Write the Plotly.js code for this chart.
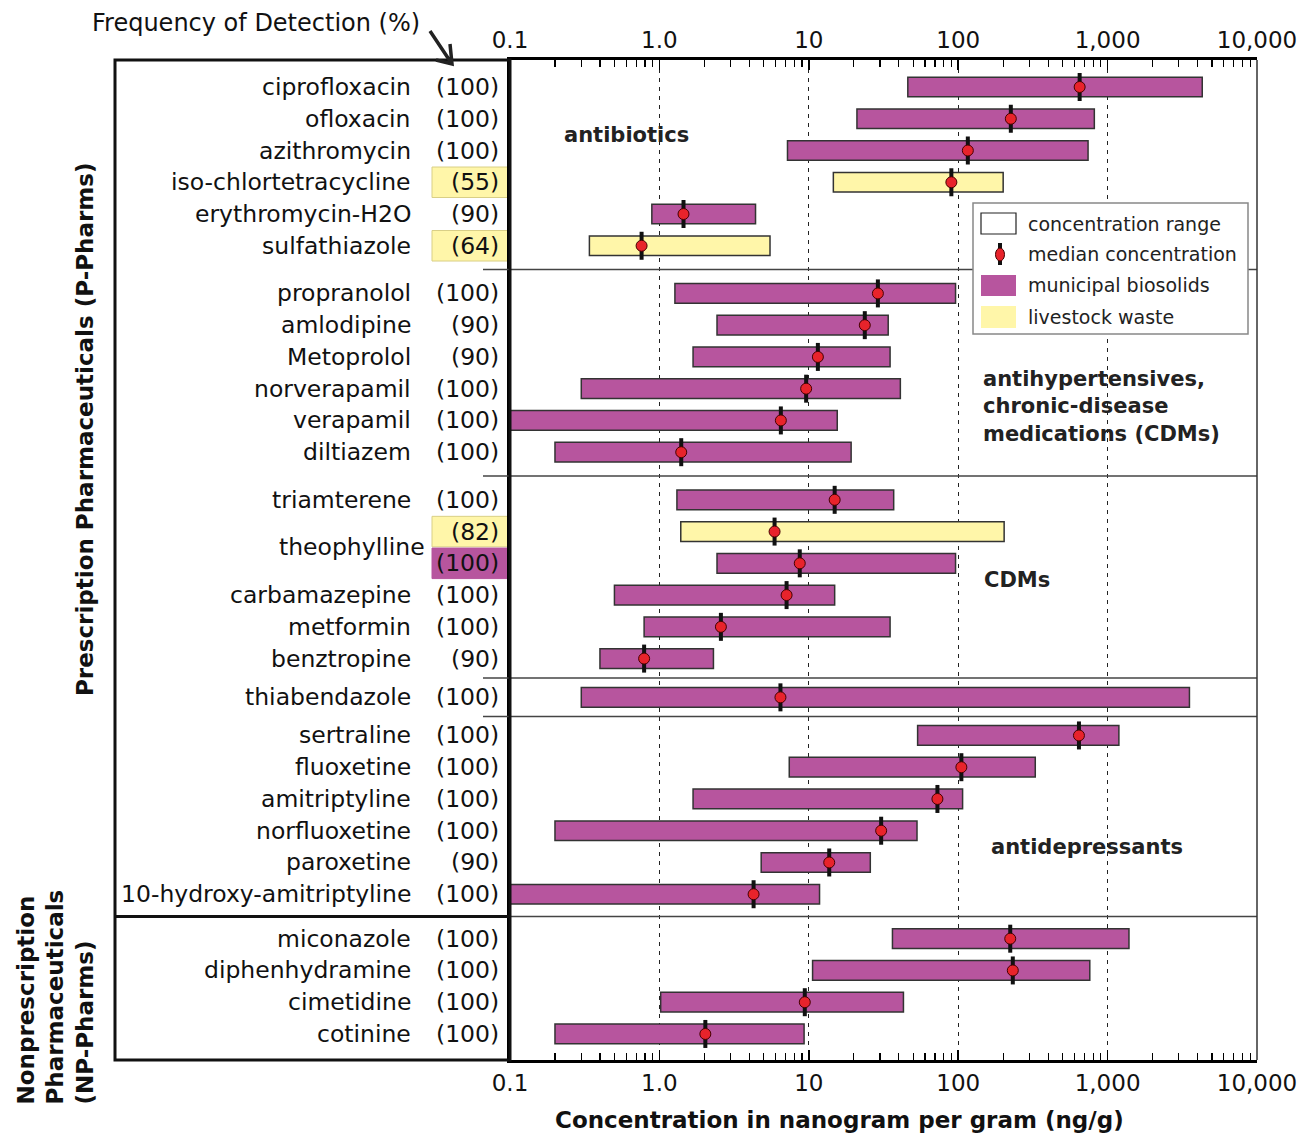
<!DOCTYPE html>
<html><head><meta charset="utf-8">
<script src="https://cdn.plot.ly/plotly-3.0.1.min.js"></script>
<style>html,body{margin:0;padding:0;background:#fff}#chart{width:1301px;height:1134px}</style>
</head><body><div id="chart"></div>
<script>
// ---------------- data ----------------
const drugs = ['ciprofloxacin','ofloxacin','azithromycin','iso-chlortetracycline','erythromycin-H2O','sulfathiazole',
  'propranolol','amlodipine','Metoprolol','norverapamil','verapamil','diltiazem',
  'triamterene','theophylline','theophylline','carbamazepine','metformin','benztropine',
  'thiabendazole',
  'sertraline','fluoxetine','amitriptyline','norfluoxetine','paroxetine','10-hydroxy-amitriptyline',
  'miconazole','diphenhydramine','cimetidine','cotinine'];
const freq = [100,100,100,55,90,64, 100,90,90,100,100,100, 100,82,100,100,100,90, 100, 100,100,100,100,90,100, 100,100,100,100];
const source = ['municipal','municipal','municipal','livestock','municipal','livestock',
  'municipal','municipal','municipal','municipal','municipal','municipal',
  'municipal','livestock','municipal','municipal','municipal','municipal',
  'municipal',
  'municipal','municipal','municipal','municipal','municipal','municipal',
  'municipal','municipal','municipal','municipal'];
const group = ['antibiotics','antibiotics','antibiotics','antibiotics','antibiotics','antibiotics',
  'antihypertensives','antihypertensives','antihypertensives','antihypertensives','antihypertensives','antihypertensives',
  'CDMs','CDMs','CDMs','CDMs','CDMs','CDMs',
  'thiabendazole',
  'antidepressants','antidepressants','antidepressants','antidepressants','antidepressants','antidepressants',
  'NP','NP','NP','NP'];
const low    = [46, 21, 7.2, 14.6, 0.89, 0.34,  1.27, 2.43, 1.68, 0.30, 0.1, 0.2,  1.31, 1.39, 2.43, 0.5, 0.79, 0.40,  0.30,  53.5, 7.4, 1.68, 0.2, 4.8, 0.1,  36.3, 10.6, 1.02, 0.2];
const high   = [4300, 815, 740, 200, 4.4, 5.5,  96, 34, 35, 41, 15.5, 19.2,  37, 203, 96, 14.9, 35, 2.3,  3530,  1190, 328, 107, 53, 25.8, 11.8,  1390, 760, 43, 9.3];
const median = [650, 225, 116, 90, 1.45, 0.76,  29, 23.7, 11.5, 9.6, 6.5, 1.4,  14.9, 5.9, 8.7, 7.1, 2.58, 0.79,  6.46,  643, 105, 72.6, 30.5, 13.7, 4.27,  223, 232, 9.4, 2.03];
const tickVals = [0.1, 1, 10, 100, 1000, 10000];
const tickText = ['0.1', '1.0', '10', '100', '1,000', '10,000'];
const categoryLabels = ['antibiotics', 'antihypertensives,<br>chronic-disease<br>medications (CDMs)', 'CDMs', 'antidepressants'];
const legendLabels = ['concentration range', 'median concentration', 'municipal biosolids', 'livestock waste'];

// ---------------- layout helpers ----------------
const FONT = 'DejaVu Sans';
const PURPLE = '#B7559E', YELLOW = '#FFF6A9', RED = '#E8232B';
const L = 510, R = 1257, T = 60, B = 1060;
const px = x => (x - L) / (R - L);
const py = y => (B - y) / (B - T);
const gapBefore = {antihypertensives: 1.5, CDMs: 1.5, thiabendazole: 1.22, antidepressants: 1.2, NP: 1.4};
const ypos = [];
let cur = 0;
for (let i = 0; i < drugs.length; i++) {
  if (i > 0) cur += (group[i] !== group[i - 1]) ? gapBefore[group[i]] : 1;
  ypos.push(cur);
}
const yTop = -0.85, yBot = ypos[ypos.length - 1] + 0.82;

const minorVals = [];
for (let d = -1; d < 4; d++) for (let k = 2; k <= 9; k++) minorVals.push(k * Math.pow(10, d));

// ---------------- traces ----------------
const bars = {
  type: 'bar', orientation: 'h', y: ypos,
  x: high.map((h, i) => h - low[i]), base: low, width: 0.62,
  marker: {color: source.map(s => s === 'livestock' ? YELLOW : PURPLE), line: {color: '#333', width: 1.5}},
  hoverinfo: 'skip', showlegend: false
};
const medBars = {
  type: 'scatter', mode: 'markers', x: median, y: ypos,
  marker: {symbol: 'line-ns', size: 20, color: '#111', line: {width: 4, color: '#111'}},
  hoverinfo: 'skip', showlegend: false
};
const medDots = {
  type: 'scatter', mode: 'markers', x: median, y: ypos, xaxis: 'x2', yaxis: 'y',
  marker: {symbol: 'circle', size: 11, color: RED, line: {width: 1, color: '#400'}},
  hoverinfo: 'skip', showlegend: false
};

// ---------------- shapes ----------------
const shapes = [];
// group dividers
for (let i = 1; i < drugs.length; i++) {
  if (group[i] !== group[i - 1]) {
    const yd = (ypos[i] + ypos[i - 1]) / 2;
    shapes.push({type: 'line', xref: 'paper', yref: 'y', x0: px(483), x1: 1, y0: yd, y1: yd, line: {color: '#444', width: 1.5}});
    if (group[i] === 'NP') {
      shapes.push({type: 'line', xref: 'paper', yref: 'y', x0: px(115), x1: 0, y0: yd, y1: yd, line: {color: '#111', width: 3}});
    }
  }
}
// right border
shapes.push({type: 'line', xref: 'paper', yref: 'paper', x0: 1, x1: 1, y0: 0, y1: 1, line: {color: '#333', width: 1.5}});
// left label box
shapes.push({type: 'rect', xref: 'paper', yref: 'paper', x0: px(115), x1: 0, y0: 0, y1: 1, line: {color: '#111', width: 3}});
// highlighted frequency boxes
for (let i = 0; i < drugs.length; i++) {
  const dup = drugs[i] === drugs[i - 1] || drugs[i] === drugs[i + 1];
  let fill = null;
  if (source[i] === 'livestock') fill = YELLOW;
  else if (dup) fill = PURPLE;
  if (fill) {
    shapes.push({type: 'rect', layer: 'below', xref: 'paper', yref: 'y', x0: px(432), x1: 0,
      y0: ypos[i] - 0.48, y1: ypos[i] + 0.48, fillcolor: fill,
      line: {color: fill === YELLOW ? '#D9CF86' : PURPLE, width: 1}});
  }
}
// arrow near "Frequency of Detection (%)"
shapes.push({type: 'path', xref: 'paper', yref: 'paper',
  path: `M ${px(430)} ${py(31)} L ${px(452)} ${py(64)} M ${px(450)} ${py(44)} L ${px(452)} ${py(64)} L ${px(436)} ${py(60)}`,
  line: {color: '#222', width: 3.5}});
// legend box and swatches
shapes.push({type: 'rect', xref: 'paper', yref: 'paper', x0: px(973), x1: px(1248), y0: py(334), y1: py(203), fillcolor: '#fff', line: {color: '#888', width: 1.5}});
shapes.push({type: 'rect', xref: 'paper', yref: 'paper', x0: px(981), x1: px(1016), y0: py(234), y1: py(213), fillcolor: '#fff', line: {color: '#222', width: 1.2}});
shapes.push({type: 'line', xref: 'paper', yref: 'paper', x0: px(1000), x1: px(1000), y0: py(265), y1: py(243), line: {color: '#111', width: 4}});
shapes.push({type: 'circle', xref: 'paper', yref: 'paper', x0: px(995.5), x1: px(1004.5), y0: py(261), y1: py(248), fillcolor: RED, line: {color: '#400', width: 1}});
shapes.push({type: 'rect', xref: 'paper', yref: 'paper', x0: px(981), x1: px(1016), y0: py(296), y1: py(275), fillcolor: PURPLE, line: {width: 0}});
shapes.push({type: 'rect', xref: 'paper', yref: 'paper', x0: px(981), x1: px(1016), y0: py(328), y1: py(306), fillcolor: YELLOW, line: {width: 0}});

// ---------------- annotations ----------------
const ann = [];
const txt = (text, x, y, opts) => Object.assign({text, x, y, xref: 'paper', yref: 'paper', showarrow: false,
  xanchor: 'left', yanchor: 'middle', font: {family: FONT, size: 23.5, color: '#111'}}, opts || {});
for (let i = 0; i < drugs.length; i++) {
  if (drugs[i] === drugs[i - 1]) continue;
  if (drugs[i] === drugs[i + 1]) {
    ann.push(txt(drugs[i], px(427), (ypos[i] + ypos[i + 1]) / 2, {yref: 'y', xanchor: 'right'}));
  } else {
    ann.push(txt(drugs[i], px(413), ypos[i], {yref: 'y', xanchor: 'right'}));
  }
}
for (let i = 0; i < drugs.length; i++) {
  ann.push(txt('(' + freq[i] + ')', px(501), ypos[i], {yref: 'y', xanchor: 'right'}));
}
const bold = {family: FONT, size: 21, color: '#222'};
ann.push(txt('<b>' + categoryLabels[0] + '</b>', px(562), py(135), {font: bold}));
ann.push(txt('<b>' + categoryLabels[1] + '</b>', px(981), py(406), {font: bold, align: 'left'}));
ann.push(txt('<b>' + categoryLabels[2] + '</b>', px(982), py(580), {font: bold}));
ann.push(txt('<b>' + categoryLabels[3] + '</b>', px(989), py(847), {font: bold}));
ann.push(txt('Frequency of Detection (%)', px(90), py(23), {font: {family: FONT, size: 24, color: '#111'}}));
ann.push(txt('<b>Prescription Pharmaceuticals (P-Pharms)</b>', px(85), py(430),
  {xanchor: 'center', textangle: -90, font: {family: FONT, size: 23, color: '#111'}}));
ann.push(txt('<b>Nonprescription<br>Pharmaceuticals<br>(NP-Pharms)</b>', px(55), py(1107),
  {xanchor: 'center', yanchor: 'bottom', align: 'left', textangle: -90, font: {family: FONT, size: 23, color: '#111'}}));
ann.push(txt('<b>Concentration in nanogram per gram (ng/g)</b>', px(839), py(1120),
  {xanchor: 'center', font: {family: FONT, size: 23, color: '#111'}}));
const legY = [224, 254, 285, 317];
legendLabels.forEach((t, k) => ann.push(txt(t, px(1026), py(legY[k]), {font: {family: FONT, size: 19, color: '#222'}})));

// ---------------- axes ----------------
const baseX = {
  type: 'log', range: [-1, 4], tickmode: 'array', tickvals: tickVals, ticktext: tickText,
  ticks: 'inside', ticklen: 10, tickwidth: 1.5, tickcolor: '#000',
  showline: true, linewidth: 3, linecolor: '#000', zeroline: false,
  tickfont: {family: FONT, size: 23, color: '#111'},
  minor: {tickmode: 'array', tickvals: minorVals, ticks: 'inside', ticklen: 7, tickwidth: 1.2, tickcolor: '#000', showgrid: false},
  fixedrange: true
};
const layout = {
  width: 1301, height: 1134,
  margin: {l: L, r: 1301 - R, t: T, b: 1134 - B, autoexpand: false},
  paper_bgcolor: '#fff', plot_bgcolor: '#fff',
  showlegend: false, hovermode: false,
  xaxis: Object.assign({}, baseX, {side: 'bottom', anchor: 'y', showgrid: true, gridcolor: '#222', gridwidth: 1.2, griddash: '4px,5px'}),
  xaxis2: Object.assign({}, baseX, {side: 'top', anchor: 'y', overlaying: 'x', showgrid: false}),
  yaxis: {range: [yBot, yTop], showline: true, linewidth: 3, linecolor: '#000', showticklabels: false,
    ticks: '', showgrid: false, zeroline: false, fixedrange: true},
  shapes: shapes, annotations: ann
};
Plotly.newPlot('chart', [bars, medBars, medDots], layout, {displayModeBar: false, staticPlot: true});
</script>
</body></html>
